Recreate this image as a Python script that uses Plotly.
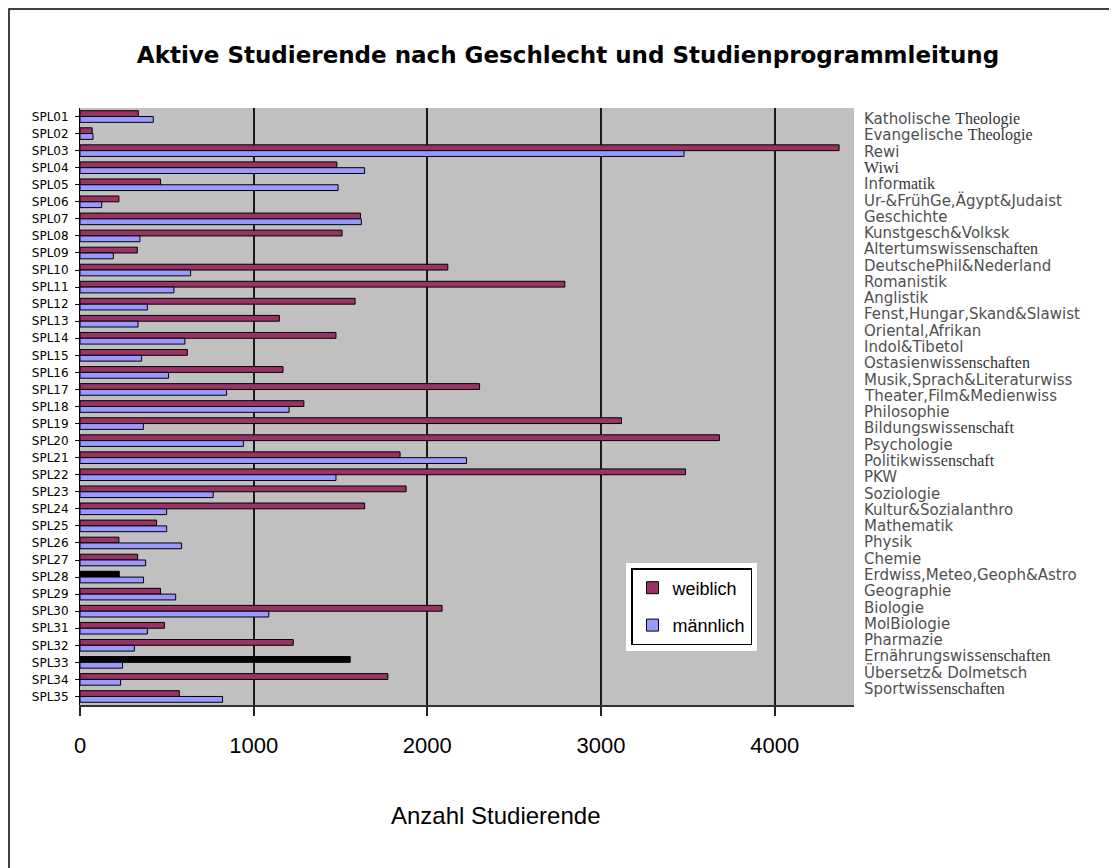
import plotly.graph_objects as go

codes = ["SPL01","SPL02","SPL03","SPL04","SPL05","SPL06","SPL07","SPL08","SPL09","SPL10",
         "SPL11","SPL12","SPL13","SPL14","SPL15","SPL16","SPL17","SPL18","SPL19","SPL20",
         "SPL21","SPL22","SPL23","SPL24","SPL25","SPL26","SPL27","SPL28","SPL29","SPL30",
         "SPL31","SPL32","SPL33","SPL34","SPL35"]

programs = ["Katholische Theologie","Evangelische Theologie","Rewi","Wiwi","Informatik",
            "Ur-&FrühGe,Ägypt&Judaist","Geschichte","Kunstgesch&Volksk","Altertumswissenschaften",
            "DeutschePhil&Nederland","Romanistik","Anglistik","Fenst,Hungar,Skand&Slawist",
            "Oriental,Afrikan","Indol&Tibetol","Ostasienwissenschaften","Musik,Sprach&Literaturwiss",
            "Theater,Film&Medienwiss","Philosophie","Bildungswissenschaft","Psychologie",
            "Politikwissenschaft","PKW","Soziologie","Kultur&Sozialanthro","Mathematik","Physik",
            "Chemie","Erdwiss,Meteo,Geoph&Astro","Geographie","Biologie","MolBiologie","Pharmazie",
            "Ernährungswissenschaften","Übersetz& Dolmetsch","Sportwissenschaften"]

weiblich = [336, 70, 4371, 1479, 464, 224, 1615, 1509, 330, 2118,
            2792, 1584, 1148, 1474, 618, 1169, 2301, 1289, 3118, 3682,
            1843, 3487, 1878, 1639, 441, 224, 332, 226, 464, 2085,
            486, 1228, 1556, 1773, 572]

maennlich = [422, 75, 3478, 1639, 1486, 125, 1620, 345, 192, 637,
             541, 388, 334, 604, 355, 510, 844, 1204, 365, 941,
             2226, 1474, 767, 499, 499, 585, 378, 366, 551, 1087,
             388, 313, 245, 234, 821]

x_ticks = [0, 1000, 2000, 3000, 4000]

W_COLOR = "#993366"
M_COLOR = "#9999FF"
thin_black = {27, 32}  # bars rendered as thin black lines in the original
w_colors = ["#000000" if i in thin_black else W_COLOR for i in range(len(codes))]

fig = go.Figure()
fig.add_trace(go.Bar(y=codes, x=weiblich, orientation="h", name="weiblich", legendgroup="w",
                     marker=dict(color=w_colors, line=dict(color="#000000", width=1))))
fig.add_trace(go.Bar(y=codes, x=maennlich, orientation="h", name="männlich", legendgroup="m",
                     marker=dict(color=M_COLOR, line=dict(color="#000000", width=1))))

# page offset of the figure (browser body margin)
OFF = 8
FW, FH = 1117 - OFF, 868 - OFF
PL, PR, PT, PB = 80, 854, 108, 705  # plot area in page pixels
L, R, T, B = PL - OFF, FW - (PR - OFF), PT - OFF, FH - (PB - OFF)


def px_x(px):
    return (px - PL) / (PR - PL)


def px_y(py):
    return (PB - py) / (PB - PT)


SERIF = "font-family:'Liberation Serif','DejaVu Serif',serif;color:#333333;font-size:16px"


def styled(name):
    if name == "Wiwi":
        return f"<span style=\"{SERIF}\">{name}</span>"
    if name.endswith("Theologie"):
        a, b = name.split(" ", 1)
        return f"{a} <span style=\"{SERIF}\">{b}</span>"
    if name == "Informatik":
        return f"Infor<span style=\"{SERIF}\">matik</span>"
    if "wissenschaft" in name:
        i = name.index("wissenschaft") + 4
        return f"{name[:i]}<span style=\"{SERIF}\">{name[i:]}</span>"
    return name


annotations = []
first_y, last_y = 119, 689
step = (last_y - first_y) / (len(programs) - 1)
for k, p in enumerate(programs):
    annotations.append(dict(x=px_x(862), xref="paper", y=px_y(first_y + k * step), yref="paper",
                            text=styled(p), xanchor="left", yanchor="middle", showarrow=False,
                            font=dict(family="DejaVu Sans, Verdana, sans-serif", size=15, color="#505050")))

annotations.append(dict(x=px_x(495), xref="paper", y=px_y(815), yref="paper",
                        text="Anzahl Studierende", xanchor="center", yanchor="middle", showarrow=False,
                        font=dict(family="Liberation Sans Narrow, Arial Narrow, sans-serif", size=24, color="#000000")))

shapes = [
    dict(type="rect", xref="paper", yref="paper", x0=px_x(OFF + 1), x1=px_x(1140),
         y0=px_y(890), y1=px_y(OFF + 1), line=dict(color="#000000", width=1.5),
         fillcolor="rgba(0,0,0,0)", layer="above"),
    dict(type="rect", xref="paper", yref="paper", x0=px_x(626), x1=px_x(757),
         y0=px_y(651), y1=px_y(563), line=dict(width=0), fillcolor="#ffffff", layer="above"),
]

fig.update_layout(
    width=FW, height=FH,
    margin=dict(l=L, r=R, t=T, b=B, autoexpand=False),
    paper_bgcolor="#ffffff",
    plot_bgcolor="#c0c0c0",
    barmode="group",
    bargap=0.32,
    bargroupgap=0.0,
    title=dict(text="<b>Aktive Studierende nach Geschlecht und Studienprogrammleitung</b>",
               x=(568 - OFF) / FW, xref="container", xanchor="center",
               y=1 - (55 - OFF) / FH, yref="container", yanchor="middle",
               font=dict(family="DejaVu Sans, Verdana, sans-serif", size=23, color="#000000")),
    xaxis=dict(range=[0, 4457], tickvals=x_ticks, ticktext=[str(v) for v in x_ticks],
               showgrid=True, gridcolor="#1a1a1a", gridwidth=1.6,
               zeroline=False, showline=True, linecolor="#333333", linewidth=2,
               ticks="outside", ticklen=9, tickwidth=1.5, tickcolor="#222222",
               ticklabelstandoff=11,
               tickfont=dict(family="Liberation Sans Narrow, Arial Narrow, sans-serif", size=22, color="#000000")),
    yaxis=dict(autorange="reversed", showgrid=False, zeroline=False,
               showline=True, linecolor="#000000", linewidth=1,
               ticks="outside", ticklen=4, tickcolor="#000000", ticklabelstandoff=4,
               tickfont=dict(family="DejaVu Sans, Verdana, sans-serif", size=12, color="#000000")),
    legend=dict(x=px_x(631), y=px_y(568), xanchor="left", yanchor="top",
                bgcolor="#ffffff", bordercolor="#000000", borderwidth=1.5,
                font=dict(family="Liberation Sans, Arial, sans-serif", size=18, color="#000000"),
                tracegroupgap=11, itemwidth=30),
    annotations=annotations,
    shapes=shapes,
    showlegend=True,
)

fig.write_html("out.html")
